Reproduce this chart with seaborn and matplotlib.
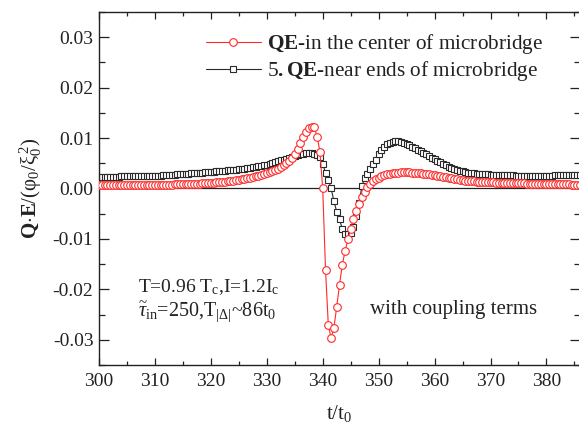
import numpy as np
import matplotlib
matplotlib.use("Agg")
import matplotlib.pyplot as plt
import seaborn as sns
import pandas as pd

# ---- data ----
t_start = 300.0
t_step = 0.5

qe_center = [
    0.00060, 0.00060, 0.00061, 0.00061, 0.00062, 0.00062, 0.00063, 0.00063, 0.00064, 0.00064,
    0.00065, 0.00065, 0.00066, 0.00066, 0.00067, 0.00068, 0.00068, 0.00069, 0.00070, 0.00071,
    0.00072, 0.00073, 0.00074, 0.00075, 0.00076, 0.00077, 0.00079, 0.00080, 0.00082, 0.00083,
    0.00085, 0.00087, 0.00089, 0.00091, 0.00093, 0.00096, 0.00099, 0.00102, 0.00105, 0.00109,
    0.00113, 0.00117, 0.00122, 0.00127, 0.00132, 0.00138, 0.00144, 0.00151, 0.00158, 0.00166,
    0.00175, 0.00184, 0.00194, 0.00205, 0.00216, 0.00228, 0.00241, 0.00255, 0.00270, 0.00286,
    0.0030, 0.0032, 0.0034, 0.0036, 0.0038, 0.0042, 0.0046, 0.0050, 0.0055, 0.0061,
    0.0069, 0.0079, 0.0091, 0.0103, 0.0113, 0.0119, 0.0122, 0.0121, 0.0103, 0.0073,
    0.0000, -0.0161, -0.0271, -0.0297, -0.0276, -0.0235, -0.0191, -0.0151, -0.0124, -0.0101,
    -0.0080, -0.0060, -0.0045, -0.0031, -0.0017, -0.0006, 0.0002, 0.0009, 0.0014, 0.0018,
    0.0021, 0.0024, 0.0026, 0.0028, 0.0029, 0.0030, 0.0031, 0.0031, 0.0032, 0.0032,
    0.0032, 0.0032, 0.0031, 0.0031, 0.0030, 0.0030, 0.0029, 0.0028, 0.0028, 0.0027,
    0.0026, 0.0025, 0.0024, 0.0023, 0.0022, 0.0021, 0.0020, 0.0019, 0.0018, 0.0017,
    0.0016, 0.0015, 0.0015, 0.0014, 0.0014, 0.0013, 0.0013, 0.0013, 0.0012, 0.0012,
    0.0012, 0.0012, 0.0011, 0.0011, 0.0011, 0.0011, 0.0011, 0.0010, 0.0010, 0.0010,
    0.0010, 0.0010, 0.0010, 0.0009, 0.0009, 0.0009, 0.0009, 0.0009, 0.0009, 0.0009,
    0.0008, 0.0008, 0.0008, 0.0008, 0.0008, 0.0008, 0.0008, 0.0008, 0.0008, 0.0007,
    0.0007, 0.0007, 0.0007,
]

qe_ends_x5 = [
    0.00230, 0.00231, 0.00232, 0.00233, 0.00234, 0.00235, 0.00236, 0.00237, 0.00238, 0.00239,
    0.00240, 0.00241, 0.00242, 0.00243, 0.00244, 0.00245, 0.00246, 0.00247, 0.00248, 0.00249,
    0.00250, 0.00253, 0.00256, 0.00259, 0.00262, 0.00266, 0.00270, 0.00274, 0.00278, 0.00282,
    0.00286, 0.00290, 0.00294, 0.00298, 0.00302, 0.00306, 0.00310, 0.00315, 0.00320, 0.00325,
    0.00330, 0.00335, 0.00340, 0.00345, 0.00350, 0.00355, 0.00360, 0.00365, 0.00370, 0.00375,
    0.00380, 0.00388, 0.00396, 0.00404, 0.00412, 0.00420, 0.00430, 0.00440, 0.00450, 0.00460,
    0.0047, 0.0049, 0.0051, 0.0053, 0.0054, 0.0056, 0.0057, 0.0059, 0.0061, 0.0063,
    0.0065, 0.0067, 0.0068, 0.0069, 0.0070, 0.0070, 0.0070, 0.0069, 0.0067, 0.0062,
    0.0049, 0.0031, 0.0017, 0.0000, -0.0025, -0.0046, -0.0061, -0.0080, -0.0090, -0.0091,
    -0.0088, -0.0076, -0.0055, -0.0029, 0.0005, 0.0020, 0.0029, 0.0039, 0.0048, 0.0057,
    0.0068, 0.0077, 0.0083, 0.0088, 0.0091, 0.0093, 0.0094, 0.0094, 0.0093, 0.0091,
    0.0089, 0.0086, 0.0083, 0.0080, 0.0077, 0.0074, 0.0071, 0.0068, 0.0064, 0.0061,
    0.0058, 0.0055, 0.0052, 0.0049, 0.0046, 0.0043, 0.0041, 0.0039, 0.0037, 0.0035,
    0.0034, 0.0033, 0.0031, 0.0030, 0.0030, 0.0029, 0.0029, 0.0028, 0.0028, 0.0028,
    0.0027, 0.0027, 0.0027, 0.0027, 0.0026, 0.0026, 0.0026, 0.0026, 0.0026, 0.0025,
    0.0025, 0.0025, 0.0025, 0.0025, 0.0025, 0.0025, 0.0025, 0.0025, 0.0025, 0.0025,
    0.0025, 0.0025, 0.0025, 0.0026, 0.0026, 0.0026, 0.0026, 0.0026, 0.0026, 0.0026,
    0.0026, 0.0026, 0.0026,
]

x_ticks = [300, 310, 320, 330, 340, 350, 360, 370, 380]
y_ticks = [-0.03, -0.02, -0.01, 0.00, 0.01, 0.02, 0.03]
y_tick_labels = ["-0.03", "-0.02", "-0.01", "0.00", "0.01", "0.02", "0.03"]

label_center = r"$\mathbf{QE}$-in the center of microbridge"
label_ends = r"5$\mathbf{.}$$\mathbf{QE}$-near ends of microbridge"

t = t_start + t_step * np.arange(len(qe_center))
df = pd.DataFrame({"t": t, "center": qe_center, "ends": qe_ends_x5})

# ---- style ----
sns.set_style("ticks")
plt.rcParams["font.family"] = ["Liberation Serif", "DejaVu Serif"]
plt.rcParams["mathtext.fontset"] = "custom"
plt.rcParams["mathtext.rm"] = "Liberation Serif"
plt.rcParams["mathtext.it"] = "Liberation Serif:italic"
plt.rcParams["mathtext.bf"] = "Liberation Serif:bold"

fig = plt.figure(figsize=(5.79, 4.25), dpi=100)
ax = fig.add_axes([99 / 579, 1 - 365 / 425, (580 - 99) / 579, (365 - 12) / 425])

ax.axhline(0, color="#222222", lw=0.9, zorder=1)

sns.lineplot(data=df, x="t", y="ends", ax=ax, color="#2a2a2a", lw=0.8,
             marker="s", markersize=5, markerfacecolor="white",
             markeredgecolor="#2a2a2a", markeredgewidth=0.8, label=label_ends, zorder=2)
sns.lineplot(data=df, x="t", y="center", ax=ax, color="#ff2a2a", lw=0.8,
             marker="o", markersize=5.5, markerfacecolor="white",
             markeredgecolor="#ff2a2a", markeredgewidth=0.8, label=label_center, zorder=3)

ax.set_xlim(300, 386)
ax.set_ylim(-0.035, 0.035)
ax.set_xticks(x_ticks)
ax.set_yticks(y_ticks)
ax.set_yticklabels(y_tick_labels)
ax.set_xticks(np.arange(305, 390, 10), minor=True)
ax.set_yticks(np.arange(-0.035, 0.036, 0.01), minor=True)

ax.tick_params(axis="both", which="both", direction="in", top=True, right=True,
               labelsize=14, colors="#222222", width=0.9)
ax.tick_params(axis="x", which="major", length=5, pad=6)
ax.tick_params(axis="x", which="minor", length=3)
ax.tick_params(axis="y", which="major", length=7, pad=4)
ax.tick_params(axis="y", which="minor", length=4)
for s in ax.spines.values():
    s.set_linewidth(1.0)
    s.set_color("#222222")

ax.set_xlabel(r"t/t$_0$", fontsize=15, labelpad=9, color="#222222")
ax.set_ylabel(r"$\mathbf{Q{\cdot}E}$/($\mathrm{\varphi}_0$/$\mathrm{\xi}_0^{\,2}$)",
              fontsize=15, labelpad=6, color="#222222")

h, l = ax.get_legend_handles_labels()
leg = ax.legend(h[::-1], l[::-1], loc="upper left", bbox_to_anchor=(0.213, 0.954),
                frameon=False, fontsize=15.3, handlelength=2.6, handletextpad=0.3,
                labelspacing=0.13, borderaxespad=0, borderpad=0.2)
for txt in leg.get_texts():
    txt.set_color("#222222")

ax.text(0.081, 0.222, r"T=0.96 T$_{\rm c}$,I=1.2I$_{\rm c}$", transform=ax.transAxes,
        fontsize=14, va="center", ha="left", color="#222222")
ax.text(0.081, 0.152, r"$\widetilde{\tau}_{\rm in}$=250,T$_{|\Delta|}$~86t$_0$",
        transform=ax.transAxes, fontsize=14.5, va="center", ha="left", color="#222222")
ax.text(0.563, 0.156, "with coupling terms", transform=ax.transAxes,
        fontsize=15, va="center", ha="left", color="#222222")

fig.savefig("out.png", dpi=100)
